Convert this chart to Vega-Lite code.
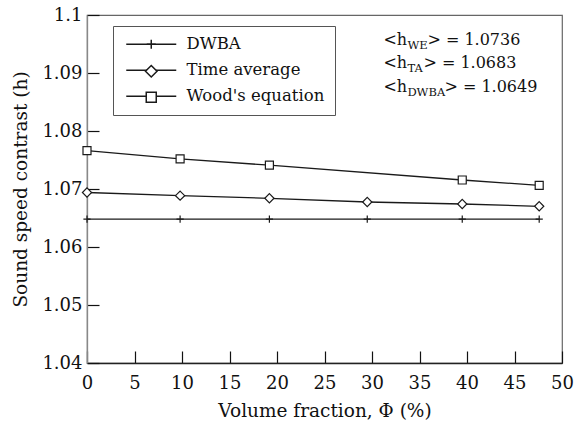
{
  "$schema": "https://vega.github.io/schema/vega-lite/v6.json",
  "width": 475,
  "height": 348,
  "autosize": "none",
  "padding": {"left": 87, "top": 15, "right": 12, "bottom": 60},
  "background": "white",
  "config": {
    "view": {"stroke": "#666", "strokeWidth": 1.2},
    "font": "DejaVu Serif",
    "axis": {
      "labelFont": "DejaVu Serif",
      "labelFontSize": 18,
      "labelColor": "#111",
      "labelFlush": false,
      "titleFont": "DejaVu Serif",
      "titleFontSize": 18.5,
      "titleFontWeight": "normal",
      "titleColor": "#111",
      "grid": false,
      "tickColor": "#111",
      "tickSize": -12,
      "tickWidth": 1.2
    }
  },
  "datasets": {
    "series": [
      {"series": "DWBA", "phi": 0, "h": 1.0648},
      {"series": "DWBA", "phi": 9.8, "h": 1.0648},
      {"series": "DWBA", "phi": 19.2, "h": 1.0648},
      {"series": "DWBA", "phi": 29.5, "h": 1.0648},
      {"series": "DWBA", "phi": 39.5, "h": 1.0648},
      {"series": "DWBA", "phi": 47.6, "h": 1.0648},
      {"series": "Time average", "phi": 0, "h": 1.0694},
      {"series": "Time average", "phi": 9.8, "h": 1.06885},
      {"series": "Time average", "phi": 19.2, "h": 1.0684},
      {"series": "Time average", "phi": 29.5, "h": 1.06776},
      {"series": "Time average", "phi": 39.5, "h": 1.06741},
      {"series": "Time average", "phi": 47.6, "h": 1.06702},
      {"series": "Wood's equation", "phi": 0, "h": 1.0766},
      {"series": "Wood's equation", "phi": 9.8, "h": 1.0752},
      {"series": "Wood's equation", "phi": 19.2, "h": 1.0741},
      {"series": "Wood's equation", "phi": 39.5, "h": 1.07155},
      {"series": "Wood's equation", "phi": 47.6, "h": 1.07064}
    ],
    "notes": [
      {"sub": "WE", "val": "1.0736", "phi": 31.2, "h": 1.0948},
      {"sub": "TA", "val": "1.0683", "phi": 31.2, "h": 1.0909},
      {"sub": "DWBA", "val": "1.0649", "phi": 31.2, "h": 1.0868}
    ]
  },
  "layer": [
    {
      "data": {"name": "series"},
      "mark": {"type": "line", "strokeWidth": 1.3},
      "encoding": {
        "x": {
          "field": "phi", "type": "quantitative",
          "scale": {"domain": [0, 50], "nice": false, "zero": false},
          "axis": {
            "title": "Volume fraction, Φ (%)",
            "values": [0, 5, 10, 15, 20, 25, 30, 35, 40, 45, 50],
            "labelPadding": 23,
            "titlePadding": 9,
            "domainColor": "#222",
            "domainWidth": 1.3
          }
        },
        "y": {
          "field": "h", "type": "quantitative",
          "scale": {"domain": [1.04, 1.1], "nice": false, "zero": false},
          "axis": {
            "title": "Sound speed contrast (h)",
            "values": [1.04, 1.05, 1.06, 1.07, 1.08, 1.09, 1.1],
            "format": ".2~f",
            "labelPadding": 17,
            "titlePadding": 11,
            "domainColor": "#888",
            "domainWidth": 1.3
          }
        },
        "color": {
          "field": "series", "type": "nominal",
          "scale": {"range": ["#1a1a1a", "#1a1a1a", "#1a1a1a"]},
          "legend": {
            "title": null,
            "orient": "none",
            "legendX": 26,
            "legendY": 11,
            "zindex": 1,
            "strokeColor": "#555",
            "fillColor": "white",
            "padding": 10,
            "labelFont": "DejaVu Serif",
            "labelFontSize": 16.5,
            "labelColor": "#111",
            "symbolType": "M-1,0H9",
            "symbolSize": 100,
            "labelOffset": 47,
            "rowPadding": 9
          }
        }
      }
    },
    {
      "data": {"name": "series"},
      "mark": {"type": "point", "filled": false, "fill": "white", "stroke": "#1a1a1a", "strokeWidth": 1.2, "opacity": 1, "size": 64},
      "encoding": {
        "x": {"field": "phi", "type": "quantitative"},
        "y": {"field": "h", "type": "quantitative"},
        "shape": {
          "field": "series", "type": "nominal",
          "scale": {
            "domain": ["DWBA", "Time average", "Wood's equation"],
            "range": ["M0,-0.9V0.9M-0.9,0H0.9", "M0,-1.15L1.15,0L0,1.15L-1.15,0Z", "M-1,-1H1V1H-1Z"]
          },
          "legend": {
            "title": null,
            "orient": "none",
            "legendX": 46,
            "legendY": 11,
            "zindex": 2,
            "padding": 10,
            "labelFont": "DejaVu Serif",
            "labelFontSize": 16.5,
            "labelExpr": "' '",
            "symbolSize": 100,
            "rowPadding": 9
          }
        }
      }
    },
    {
      "data": {"name": "notes"},
      "mark": {"type": "text", "align": "left", "baseline": "alphabetic", "fontSize": 16, "font": "DejaVu Serif", "color": "#111"},
      "encoding": {
        "x": {"field": "phi", "type": "quantitative"},
        "y": {"field": "h", "type": "quantitative"},
        "text": {"value": "<h"}
      }
    },
    {
      "data": {"name": "notes"},
      "mark": {"type": "text", "align": "left", "baseline": "alphabetic", "fontSize": 11.5, "font": "DejaVu Serif", "color": "#111", "dx": 24, "dy": 4},
      "encoding": {
        "x": {"field": "phi", "type": "quantitative"},
        "y": {"field": "h", "type": "quantitative"},
        "text": {"field": "sub"}
      }
    },
    {
      "data": {"name": "notes"},
      "transform": [{"filter": "datum.sub === 'WE'"}],
      "mark": {"type": "text", "align": "left", "baseline": "alphabetic", "fontSize": 16, "font": "DejaVu Serif", "color": "#111", "dx": 44},
      "encoding": {
        "x": {"field": "phi", "type": "quantitative"},
        "y": {"field": "h", "type": "quantitative"},
        "text": {"value": "> = 1.0736"}
      }
    },
    {
      "data": {"name": "notes"},
      "transform": [{"filter": "datum.sub === 'TA'"}],
      "mark": {"type": "text", "align": "left", "baseline": "alphabetic", "fontSize": 16, "font": "DejaVu Serif", "color": "#111", "dx": 40},
      "encoding": {
        "x": {"field": "phi", "type": "quantitative"},
        "y": {"field": "h", "type": "quantitative"},
        "text": {"value": "> = 1.0683"}
      }
    },
    {
      "data": {"name": "notes"},
      "transform": [{"filter": "datum.sub === 'DWBA'"}],
      "mark": {"type": "text", "align": "left", "baseline": "alphabetic", "fontSize": 16, "font": "DejaVu Serif", "color": "#111", "dx": 61},
      "encoding": {
        "x": {"field": "phi", "type": "quantitative"},
        "y": {"field": "h", "type": "quantitative"},
        "text": {"value": "> = 1.0649"}
      }
    }
  ]
}
